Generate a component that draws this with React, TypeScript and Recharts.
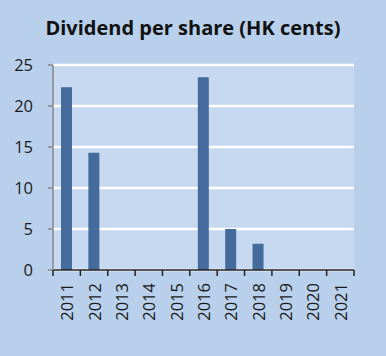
import { BarChart, Bar, XAxis, YAxis, CartesianGrid } from "recharts"

const years = ["2011", "2012", "2013", "2014", "2015", "2016", "2017", "2018", "2019", "2020", "2021"]
const dividends = [22.3, 14.3, 0, 0, 0, 23.5, 5.0, 3.2, 0, 0, 0]
const yTicks = [0, 5, 10, 15, 20, 25]

const data = years.map((year, i) => ({ year, dps: dividends[i] }))

const FONT = "'Open Sans', 'Liberation Sans', sans-serif"

// year label rotated, plus tick marks on the category edges
function YearTick(props: any) {
  const { x, y, payload, index, visibleTicksCount } = props
  const half = payload.offset ?? 0
  const last = index === visibleTicksCount - 1
  return (
    <g>
      <line x1={x - half} x2={x - half} y1={y - 8} y2={y - 2} stroke="#222" strokeWidth={1.5} />
      {last && <line x1={x + half} x2={x + half} y1={y - 8} y2={y - 2} stroke="#222" strokeWidth={1.5} />}
      <text
        x={x}
        y={y + 5}
        transform={`rotate(-90, ${x}, ${y + 5})`}
        textAnchor="end"
        dominantBaseline="central"
        fontSize={16.5}
        fontFamily={FONT}
        fill="#1a1a1a"
      >
        {payload.value}
      </text>
    </g>
  )
}

export default function App() {
  return (
    <div style={{ position: "fixed", left: 0, top: 0, width: 386, height: 356, background: "#B9D0EC", fontFamily: FONT }}>
      <div
        style={{
          position: "absolute",
          top: 15,
          left: 0,
          width: 386,
          textAlign: "center",
          fontSize: 20,
          lineHeight: "26px",
          fontWeight: 700,
          color: "#111",
        }}
      >
        Dividend per share (HK cents)
      </div>
      <BarChart
        width={386}
        height={356}
        data={data}
        margin={{ top: 65, right: 32, bottom: 0, left: 0 }}
        barSize={11}
      >
        <CartesianGrid vertical={false} fill="#C6D9F0" stroke="#fff" strokeWidth={2.5} horizontalValues={yTicks} />
        <XAxis
          dataKey="year"
          height={86}
          interval={0}
          tickLine={false}
          axisLine={{ stroke: "#222", strokeWidth: 1.5 }}
          tick={<YearTick />}
        />
        <YAxis
          width={53}
          domain={[0, 25]}
          ticks={yTicks}
          interval={0}
          tickSize={5}
          tickMargin={15}
          axisLine={{ stroke: "#888", strokeWidth: 1.5 }}
          tickLine={{ stroke: "#888", strokeWidth: 1.5 }}
          tick={{ fontSize: 16.5, fill: "#1a1a1a", fontFamily: FONT }}
        />
        <Bar dataKey="dps" fill="#456A9C" isAnimationActive={false} />
      </BarChart>
    </div>
  )
}
